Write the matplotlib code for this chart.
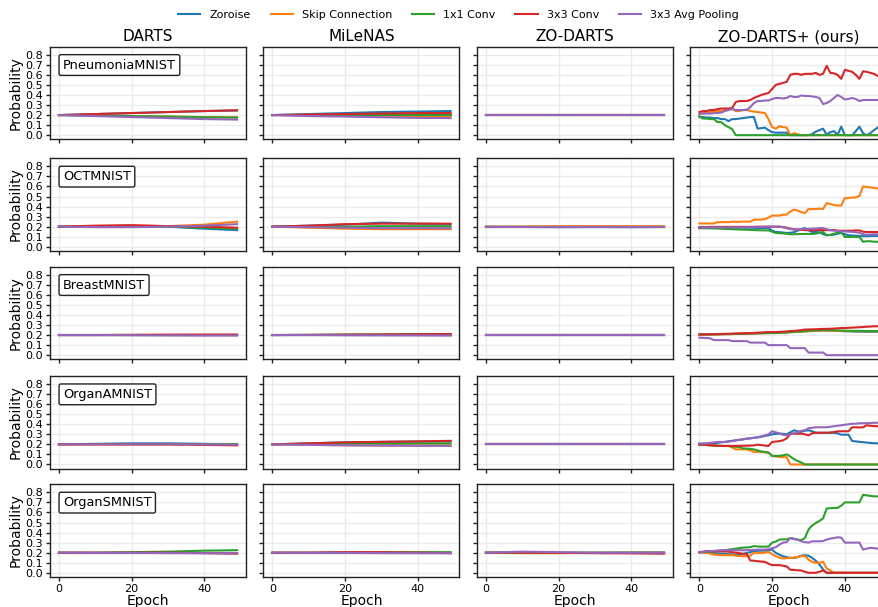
import matplotlib
matplotlib.use("Agg")
import matplotlib.pyplot as plt

methods = ["DARTS", "MiLeNAS", "ZO-DARTS", "ZO-DARTS+ (ours)"]
datasets = ["PneumoniaMNIST", "OCTMNIST", "BreastMNIST", "OrganAMNIST", "OrganSMNIST"]
ops = ["Zoroise", "Skip Connection", "1x1 Conv", "3x3 Conv", "3x3 Avg Pooling"]
colors = ["#1f77b4", "#ff7f0e", "#2ca02c", "#d62728", "#9467bd"]

coarse_epochs = [0, 10, 20, 30, 40, 49]
# order in every panel: zoroise, skip, 1x1, 3x3, avg pool

darts_pneumonia = [[.2, .21, .22, .23, .24, .245], [.2, .195, .19, .185, .18, .178],
                   [.2, .195, .19, .185, .178, .175], [.2, .21, .22, .23, .24, .248],
                   [.2, .19, .18, .17, .16, .155]]
darts_oct = [[.2, .2, .205, .2, .18, .165], [.2, .205, .21, .205, .22, .25],
             [.2, .2, .205, .2, .19, .18], [.2, .21, .215, .205, .2, .19],
             [.2, .195, .195, .2, .21, .225]]
darts_breast = [[.2, .2, .2, .2, .2, .2], [.2, .2, .2, .2, .2, .2],
                [.2, .2, .2, .2, .2, .2], [.2, .2, .202, .204, .205, .205],
                [.2, .2, .198, .196, .195, .195]]
darts_organa = [[.2, .205, .21, .21, .205, .2], [.2, .2, .2, .2, .198, .195],
                [.2, .2, .2, .2, .2, .2], [.2, .2, .2, .2, .195, .19],
                [.2, .2, .2, .2, .2, .198]]
darts_organs = [[.2, .2, .2, .2, .2, .2], [.2, .2, .2, .2, .2, .2],
                [.2, .2, .205, .21, .22, .225], [.2, .2, .2, .2, .195, .19],
                [.2, .198, .197, .196, .195, .195]]

milenas_pneumonia = [[.2, .21, .22, .23, .235, .24], [.2, .195, .193, .19, .19, .19],
                     [.2, .2, .2, .2, .2, .2], [.2, .205, .21, .215, .22, .22],
                     [.2, .19, .185, .178, .172, .17]]
milenas_oct = [[.2, .21, .22, .24, .23, .225], [.2, .19, .18, .175, .175, .175],
               [.2, .2, .2, .205, .205, .205], [.2, .21, .225, .23, .23, .23],
               [.2, .195, .19, .185, .185, .185]]
milenas_breast = [[.2, .2, .2, .2, .2, .2], [.2, .2, .2, .2, .2, .2],
                  [.2, .202, .205, .207, .21, .21], [.2, .202, .204, .206, .208, .21],
                  [.2, .2, .198, .197, .196, .195]]
milenas_organa = [[.2, .21, .22, .225, .228, .23], [.2, .195, .192, .19, .19, .19],
                  [.2, .205, .207, .208, .21, .21], [.2, .21, .22, .225, .23, .235],
                  [.2, .195, .19, .188, .186, .185]]
milenas_organs = [[.2, .2, .2, .2, .2, .2], [.2, .2, .2, .2, .2, .2],
                  [.2, .2, .202, .203, .205, .205], [.2, .2, .205, .205, .2, .195],
                  [.2, .198, .197, .196, .195, .195]]

zo_pneumonia = [[.2, .2, .2, .2, .2, .2], [.2, .2, .2, .2, .2, .2],
                [.2, .2, .2, .2, .2, .2], [.202, .202, .202, .202, .202, .202],
                [.198, .198, .198, .198, .198, .198]]
zo_oct = [[.2, .198, .195, .197, .195, .197], [.2, .202, .205, .205, .205, .205],
          [.2, .2, .2, .2, .2, .2], [.2, .2, .2, .2, .2, .2],
          [.2, .2, .2, .2, .2, .2]]
zo_breast = [[.2, .2, .2, .2, .2, .2], [.2, .2, .2, .2, .2, .2],
             [.2, .2, .2, .2, .2, .2], [.2, .2, .2, .2, .2, .2],
             [.197, .197, .197, .197, .197, .197]]
zo_organa = [[.2, .2, .2, .2, .2, .2], [.2, .2, .2, .2, .2, .2],
             [.2, .2, .2, .2, .2, .2], [.2, .2, .2, .2, .2, .2],
             [.2, .2, .2, .2, .2, .2]]
zo_organs = [[.2, .2, .2, .2, .2, .2], [.2, .195, .195, .2, .2, .2],
             [.2, .2, .2, .2, .202, .202], [.2, .2, .198, .195, .193, .19],
             [.2, .21, .205, .2, .2, .2]]

# ZO-DARTS+ read epoch by epoch (0..49)
full_epochs = list(range(50))

zoplus_pneumonia = [
    [.18, .18, .175, .175, .17, .17, .16, .16, .14, .16, .16, .165, .17, .175, .18, .18, .065, .07, .075, .05,
     .03, .025, .025, .025, .025, 0, 0, 0, 0, 0, 0, .01, .035, .05, .065, .005, .03, .04, .005, .085,
     0, 0, 0, .04, .085, .02, 0, .02, .05, .075],
    [.21, .22, .22, .23, .235, .24, .24, .25, .26, .265, .24, .24, .25, .255, .24, .235, .23, .225, .22, .16,
     .08, .065, .09, .08, .075, 0, .02, .01, 0, 0, 0, 0, 0, 0, 0, 0, 0, 0, 0, 0,
     0, 0, 0, 0, 0, 0, 0, 0, 0, 0],
    [.19, .165, .165, .16, .16, .13, .13, .10, .08, .06, 0, 0, 0, 0, 0, 0, 0, 0, 0, 0,
     0, 0, 0, 0, 0, 0, 0, 0, 0, 0, 0, 0, 0, 0, 0, 0, 0, 0, 0, 0,
     0, 0, 0, 0, 0, 0, 0, 0, 0, 0],
    [.23, .24, .24, .25, .25, .26, .265, .265, .265, .27, .33, .34, .34, .34, .35, .37, .385, .40, .41, .42,
     .46, .50, .51, .52, .53, .60, .61, .61, .60, .61, .61, .61, .62, .60, .61, .69, .62, .615, .60, .56,
     .65, .64, .63, .60, .56, .635, .63, .62, .61, .59],
    [.215, .215, .215, .215, .22, .22, .225, .24, .25, .26, .25, .25, .25, .25, .28, .32, .34, .34, .345, .345,
     .36, .37, .37, .365, .37, .39, .38, .38, .395, .39, .39, .385, .38, .37, .31, .32, .34, .37, .40, .38,
     .355, .36, .37, .36, .34, .35, .35, .35, .35, .35],
]
zoplus_oct = [
    [.186, .186, .186, .186, .186, .186, .186, .186, .186, .186, .19, .19, .19, .19, .19, .188, .186, .186, .186, .186,
     .16, .147, .145, .142, .137, .14, .145, .16, .175, .186, .165, .147, .147, .145, .125, .115, .118, .12, .13, .137,
     .125, .115, .112, .11, .108, .105, .105, .108, .108, .108],
    [.232, .232, .232, .232, .232, .245, .245, .245, .245, .25, .248, .248, .25, .25, .25, .27, .27, .27, .275, .29,
     .31, .31, .31, .32, .32, .35, .37, .36, .345, .335, .375, .375, .375, .38, .375, .435, .425, .415, .41, .41,
     .485, .485, .49, .49, .505, .60, .595, .59, .585, .58],
    [.186, .186, .185, .184, .183, .182, .18, .178, .176, .175, .173, .172, .17, .17, .168, .166, .165, .164, .163, .163,
     .15, .137, .135, .133, .13, .125, .125, .126, .127, .128, .128, .128, .13, .14, .147, .115, .118, .13, .14, .147,
     .098, .098, .098, .098, .098, .05, .055, .055, .05, .05],
    [.196, .196, .196, .198, .198, .198, .198, .198, .198, .198, .198, .198, .198, .198, .198, .198, .2, .2, .2, .2,
     .2, .2, .2, .195, .19, .18, .175, .17, .17, .165, .165, .165, .165, .168, .165, .165, .165, .168, .16, .16,
     .16, .16, .16, .163, .163, .15, .147, .147, .147, .147],
    [.193, .193, .193, .193, .193, .193, .193, .193, .193, .193, .193, .193, .193, .195, .195, .195, .195, .197, .198, .2,
     .2, .2, .2, .195, .185, .178, .17, .172, .175, .175, .178, .18, .182, .185, .186, .175, .165, .16, .158, .155,
     .153, .15, .148, .145, .14, .125, .12, .122, .124, .124],
]
zoplus_breast = [
    [.206, .206, .207, .207, .208, .208, .209, .21, .21, .211, .212, .213, .214, .215, .216, .217, .218, .219, .22, .22,
     .221, .222, .223, .225, .227, .23, .232, .234, .236, .238, .24, .242, .244, .245, .246, .245, .244, .243, .241, .24,
     .238, .237, .236, .235, .234, .234, .233, .233, .233, .233],
    [.206, .206, .206, .207, .207, .208, .208, .209, .209, .21, .211, .212, .213, .214, .215, .216, .217, .218, .219, .22,
     .221, .222, .223, .224, .226, .228, .23, .232, .234, .236, .238, .24, .242, .244, .246, .245, .244, .243, .242, .241,
     .24, .24, .239, .239, .238, .238, .237, .237, .237, .237],
    [.206, .206, .207, .207, .208, .208, .209, .21, .21, .211, .212, .213, .214, .215, .216, .217, .218, .219, .22, .22,
     .22, .22, .222, .225, .228, .23, .232, .234, .236, .24, .242, .244, .246, .248, .25, .25, .25, .248, .246, .245,
     .243, .243, .242, .242, .241, .241, .24, .24, .24, .24],
    [.206, .206, .207, .208, .209, .21, .211, .212, .213, .214, .215, .216, .217, .218, .22, .222, .224, .226, .228, .23,
     .23, .23, .232, .234, .236, .24, .242, .245, .25, .255, .256, .257, .258, .26, .261, .262, .263, .265, .267, .27,
     .27, .272, .274, .276, .278, .28, .283, .285, .287, .288],
    [.174, .172, .17, .167, .15, .15, .15, .15, .15, .14, .14, .14, .14, .14, .125, .125, .125, .125, .125, .1,
     .1, .1, .1, .1, .1, .07, .07, .07, .07, .07, .026, .026, .026, .026, .026, 0, 0, 0, 0, 0,
     0, 0, 0, 0, 0, 0, 0, 0, 0, 0],
]
zoplus_organa = [
    [.207, .207, .207, .207, .21, .215, .22, .224, .23, .235, .24, .245, .25, .257, .26, .265, .27, .275, .285, .29,
     .3, .305, .306, .305, .3, .32, .34, .33, .325, .335, .34, .33, .315, .315, .315, .315, .315, .315, .31, .296,
     .296, .296, .233, .23, .225, .222, .218, .214, .212, .21],
    [.197, .195, .193, .19, .188, .186, .184, .184, .184, .17, .15, .15, .15, .15, .14, .125, .125, .125, .12, .118,
     .085, .08, .075, .072, .072, 0, 0, 0, 0, 0, 0, 0, 0, 0, 0, 0, 0, 0, 0, 0,
     0, 0, 0, 0, 0, 0, 0, 0, 0, 0],
    [.197, .195, .193, .19, .188, .186, .185, .184, .184, .18, .176, .174, .16, .158, .155, .15, .14, .13, .125, .118,
     .085, .085, .085, .09, .1, .08, .053, .035, .02, 0, 0, 0, 0, 0, 0, 0, 0, 0, 0, 0,
     0, 0, 0, 0, 0, 0, 0, 0, 0, 0],
    [.197, .197, .195, .193, .19, .186, .184, .184, .184, .184, .184, .185, .186, .187, .188, .19, .197, .193, .188, .184,
     .224, .228, .232, .24, .26, .306, .306, .306, .306, .3, .29, .31, .316, .316, .316, .316, .318, .322, .33, .33,
     .33, .33, .37, .37, .368, .37, .39, .385, .382, .38],
    [.207, .207, .21, .215, .22, .224, .224, .224, .228, .232, .24, .245, .25, .257, .26, .265, .27, .28, .29, .3,
     .33, .32, .31, .295, .29, .3, .31, .32, .335, .34, .36, .365, .37, .37, .37, .37, .375, .38, .385, .39,
     .395, .4, .405, .405, .41, .41, .41, .412, .415, .415],
]
zoplus_organs = [
    [.205, .202, .2, .198, .195, .192, .19, .188, .185, .183, .18, .18, .185, .198, .205, .215, .218, .22, .22, .225,
     .23, .198, .18, .165, .155, .148, .148, .155, .17, .175, .17, .148, .12, .083, .033, 0, 0, 0, 0, 0,
     0, 0, 0, 0, 0, 0, 0, 0, 0, 0],
    [.205, .2, .198, .19, .18, .178, .175, .175, .175, .175, .17, .165, .165, .165, .17, .198, .198, .195, .2, .208,
     .185, .165, .15, .142, .145, .148, .15, .158, .165, .168, .13, .109, .099, .1, .109, .043, .023, 0, 0, 0,
     0, 0, 0, 0, 0, 0, 0, 0, 0, 0],
    [.205, .205, .207, .21, .213, .216, .22, .222, .23, .235, .24, .245, .25, .252, .255, .265, .262, .26, .26, .262,
     .3, .31, .33, .332, .333, .345, .34, .33, .325, .345, .43, .47, .495, .515, .54, .64, .642, .645, .645, .667,
     .70, .70, .70, .70, .70, .775, .77, .765, .76, .76],
    [.205, .21, .215, .215, .213, .213, .212, .212, .21, .205, .2, .195, .19, .188, .122, .12, .115, .112, .109, .09,
     .076, .076, .076, .07, .063, .03, .028, .025, .023, .01, 0, 0, 0, .01, .023, 0, 0, 0, 0, 0,
     0, 0, 0, 0, 0, 0, 0, 0, 0, 0],
    [.205, .208, .212, .215, .218, .222, .224, .225, .224, .224, .224, .224, .224, .225, .226, .228, .23, .23, .23, .235,
     .245, .254, .28, .3, .305, .345, .335, .33, .313, .305, .3, .313, .313, .313, .315, .33, .34, .345, .353, .35,
     .3, .3, .3, .3, .3, .23, .24, .248, .245, .24],
]

grid_data = [
    [darts_pneumonia, milenas_pneumonia, zo_pneumonia, zoplus_pneumonia],
    [darts_oct, milenas_oct, zo_oct, zoplus_oct],
    [darts_breast, milenas_breast, zo_breast, zoplus_breast],
    [darts_organa, milenas_organa, zo_organa, zoplus_organa],
    [darts_organs, milenas_organs, zo_organs, zoplus_organs],
]

W, H = 879, 607
fig = plt.figure(figsize=(W / 100, H / 100), dpi=100)

ax_w, ax_h = 196, 92.5
lefts = [50, 263.5, 477, 690.5]
tops = [46.7, 158.3, 266.7, 376, 484.3]

handles = []
for r, ds in enumerate(datasets):
    for c, m in enumerate(methods):
        ax = fig.add_axes([lefts[c] / W, 1 - (tops[r] + ax_h) / H, ax_w / W, ax_h / H])
        series = grid_data[r][c]
        x = full_epochs if c == 3 else coarse_epochs
        for k in range(5):
            ln, = ax.plot(x, series[k], color=colors[k], lw=1.5, label=ops[k])
            if r == 0 and c == 0:
                handles.append(ln)
        ax.set_xlim(-2.45, 51.45)
        ax.set_ylim(-0.04, 0.88)
        ax.set_xticks([0, 20, 40])
        ax.set_yticks([0, .1, .2, .3, .4, .5, .6, .7, .8])
        ax.grid(True, color="#ebebeb", lw=1.0)
        ax.set_axisbelow(True)
        for sp in ax.spines.values():
            sp.set_color("#222222")
            sp.set_linewidth(1.0)
        ax.tick_params(direction="out", length=3, width=1.0, color="#222222", labelsize=8, pad=2)
        if c == 0:
            ax.set_yticklabels(["0.0", "0.1", "0.2", "0.3", "0.4", "0.5", "0.6", "0.7", "0.8"])
            ax.set_ylabel("Probability", fontsize=10, labelpad=2)
            ax.text(0.066, 0.872, ds, transform=ax.transAxes, ha="left", va="top", fontsize=9.3,
                    bbox=dict(boxstyle="round,pad=0.3,rounding_size=0.15", fc="white", ec="#222222", lw=1.0))
        else:
            ax.set_yticklabels([])
        if r == 4:
            ax.set_xlabel("Epoch", fontsize=10, labelpad=0)
        else:
            ax.set_xticklabels([])
        if r == 0:
            ax.set_title(m, fontsize=11, pad=4)

fig.legend(handles, ops, loc="center", bbox_to_anchor=(458.5 / W, 1 - 15 / H), ncol=5,
           frameon=False, fontsize=8, handlelength=2.0, columnspacing=1.8)

fig.savefig("out.png", dpi=100)
